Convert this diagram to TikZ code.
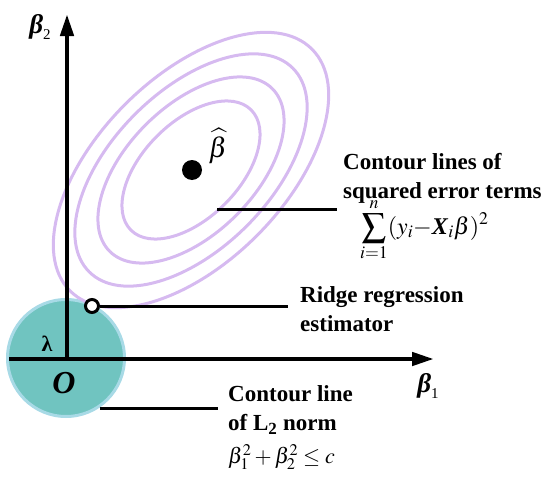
\documentclass[tikz,border=0pt]{standalone}
\usepackage{amsmath}
\usepackage{mathptmx}
\usepackage[no-math]{fontspec}
\setmainfont{Liberation Serif}
\usetikzlibrary{arrows.meta}
\definecolor{ellcol}{RGB}{214,186,240}
\definecolor{tealfill}{RGB}{112,196,192}
\definecolor{tealedge}{RGB}{168,218,230}
\tikzset{
  axisline/.style={line width=4.5pt, -{Triangle[length=22pt,width=13pt]}},
  leader/.style={line width=3pt},
  contour/.style={draw=ellcol, line width=3pt},
  lbl/.style={font=\bfseries\fontsize{23}{29}\selectfont, align=left, inner sep=0pt},
  mathlbl/.style={font=\fontsize{22}{26}\selectfont, inner sep=0pt},
}
\begin{document}
\begin{tikzpicture}[x=1pt,y=-1pt]
\useasboundingbox (0,0) rectangle (550,482);
% L2 ball
\node[circle, fill=tealfill, draw=tealedge, line width=3pt, minimum size=117pt, inner sep=0pt] (ball) at (66,358) {};
% contour ellipses
\begin{scope}[shift={(191,170)}, rotate=45]
  \draw[contour] (0,0) ellipse [x radius=85pt, y radius=48pt];
  \draw[contour] (0,0) ellipse [x radius=115pt, y radius=64pt];
  \draw[contour] (0,0) ellipse [x radius=144pt, y radius=79pt];
  \draw[contour] (0,0) ellipse [x radius=171pt, y radius=93pt];
\end{scope}
% axes
\coordinate (O) at (67,359);
\coordinate (ytip) at (67,14);
\coordinate (xstart) at (9,359);
\coordinate (xtip) at (434,359);
\draw[axisline] (O) -- (ytip);
\draw[axisline] (xstart) -- (xtip);
% axis labels
\node (b2) at (40,27) {\fontsize{27}{27}\selectfont\bfseries\itshape β\raisebox{-0.22em}{\normalfont\fontsize{15}{15}\selectfont 2}};
\node (b1) at (428,386) {\fontsize{27}{27}\selectfont\bfseries\itshape β\raisebox{-0.22em}{\normalfont\fontsize{15}{15}\selectfont 1}};
\node (lam) at (47,344) {\fontsize{22}{22}\selectfont\bfseries λ};
\node (orig) at (64,383) {\fontsize{32}{32}\selectfont\bfseries\itshape O};
% beta hat
\node[circle, fill=black, inner sep=0pt, minimum size=20pt] (bhat) at (192,170) {};
\node (bhatlbl) at (218,146) {\fontsize{28}{28}\selectfont$\widehat{\beta}$};
% ridge estimator
\node[circle, draw=black, fill=white, line width=3pt, inner sep=0pt, minimum size=13pt] (ridge) at (92,306) {};
\coordinate (ridgeend) at (288,306);
\draw[leader] (ridge.east) -- (ridgeend);
\node[lbl, anchor=west] (rtext) at (300,309) {Ridge regression\\estimator};
% contour leader
\coordinate (cstart) at (217,209);
\coordinate (cend) at (337,209);
\draw[leader] (cstart) -- (cend);
\node[lbl, anchor=west] (ctext) at (343,178) {Contour lines of\\squared error terms};
\node[mathlbl, font=\fontsize{24}{28}\selectfont, anchor=west] (sum) at (360,230) {$\displaystyle\sum_{i=1}^{n}(y_i\mathord{-}\textbf{\textit{X}}_i\beta)^2$};
% L2 leader
\coordinate (lstart) at (100,408);
\coordinate (lend) at (218,408);
\draw[leader] (lstart) -- (lend);
\node[lbl, anchor=west] (ltext) at (228,410) {Contour line\\of L\textsubscript{2} norm};
\node[mathlbl, anchor=west] (l2) at (228,457) {$\beta_1^2+\beta_2^2\le c$};
\end{tikzpicture}
\end{document}
